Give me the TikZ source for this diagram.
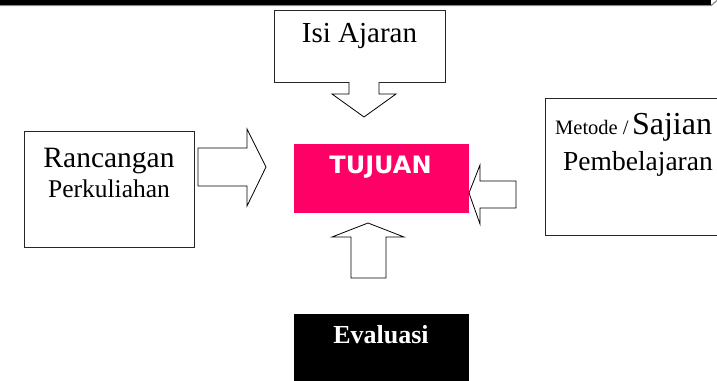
\documentclass[tikz,border=0pt]{standalone}
\usepackage{fontspec}
\setmainfont{Liberation Serif}
\newfontfamily\tujfont{DejaVu Sans}
\definecolor{tujpink}{HTML}{FF0066}
\begin{document}
\begin{tikzpicture}[x=1pt,y=-1pt,
  box/.style={draw=black!85,line width=0.8pt,fill=white},
  blockarrow/.style={draw=black,line width=0.8pt,fill=white,line join=miter},
  lbl/.style={inner sep=0pt,anchor=base}]
\useasboundingbox (0,0) rectangle (717,380);
% top bar
\fill[black] (0,0) rectangle (711,4.8);
\draw[black!45,line width=1.2pt] (0,5.6) -- (711,5.6) -- (717,0.5);
% boxes
\path[box] (274,10) rectangle (445,82);
\node[lbl,font=\fontsize{29}{31}\selectfont] (isi) at (359.5,42) {Isi Ajaran};
\path[box] (24,131) rectangle (194,247);
\node[lbl,font=\fontsize{29.5}{31}\selectfont] (ranc) at (109,167) {Rancangan};
\node[lbl,font=\fontsize{25.5}{27}\selectfont] (perk) at (109,197) {Perkuliahan};
\path[box] (545,98) rectangle (720,235);
\node[lbl,anchor=base west,inner sep=0pt] (met) at (555,134) {\fontsize{20.5}{22}\selectfont Metode /\,\fontsize{32}{34}\selectfont Sajian};
\node[lbl,font=\fontsize{27.5}{30}\selectfont] (pemb) at (638,170) {Pembelajaran};
\fill[tujpink] (294,144) rectangle (469,213);
\node[lbl,text=white,font=\tujfont\bfseries\fontsize{24}{26}\selectfont] (tuj) at (380.5,173) {TUJUAN};
\fill[black] (294,314) rectangle (469,381);
\node[lbl,text=white,font=\bfseries\fontsize{26}{28}\selectfont] (eval) at (381,343) {Evaluasi};
% block arrows
\draw[blockarrow] (349,82) -- (349,94) -- (332,94) -- (364,117) -- (396,94) -- (379,94) -- (379,82);
\draw[blockarrow] (198,148) -- (247,148) -- (247,129) -- (266,167) -- (247,206) -- (247,186) -- (198,186) -- cycle;
\draw[blockarrow] (516,181) -- (480,181) -- (480,165) -- (469,193) -- (480,224) -- (480,208) -- (516,208) -- cycle;
\draw[blockarrow] (351,278) -- (351,237) -- (332,237) -- (368,223) -- (404,237) -- (386,237) -- (386,278) -- cycle;
\end{tikzpicture}
\end{document}
